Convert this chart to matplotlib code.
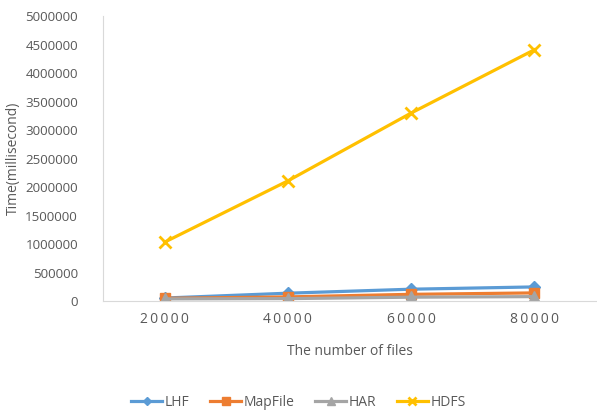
import matplotlib.pyplot as plt
import numpy as np

plt.rcParams['font.family'] = ['Open Sans', 'DejaVu Sans']

files = ["20000", "40000", "60000", "80000"]
lhf = [55000, 140000, 210000, 250000]
mapfile = [50000, 75000, 120000, 145000]
har = [40000, 45000, 70000, 80000]
hdfs = [1035000, 2110000, 3300000, 4410000]

grey = "#595959"

fig = plt.figure(figsize=(5.97, 4.12), dpi=100)
ax = fig.add_axes([0.1725, 0.269, 0.826, 0.692])

x = np.arange(len(files))
ax.plot(x, lhf, color="#5B9BD5", lw=2.3, marker="D", ms=6, label="LHF")
ax.plot(x, mapfile, color="#ED7D31", lw=2.3, marker="s", ms=7, label="MapFile")
ax.plot(x, har, color="#A5A5A5", lw=2.3, marker="^", ms=8, label="HAR")
ax.plot(x, hdfs, color="#FFC000", lw=2.3, marker="x", ms=8, mew=2, label="HDFS")

ax.set_xlim(-0.5, len(files) - 0.5)
ax.set_ylim(0, 5000000)
ax.set_yticks(np.arange(0, 5000001, 500000))
ax.set_yticklabels([str(v) for v in range(0, 5000001, 500000)])
ax.set_xticks(x)
ax.set_xticklabels([" ".join(f).replace(" ", "\u2009") for f in files])

for s in ["top", "right"]:
    ax.spines[s].set_visible(False)
for s in ["left", "bottom"]:
    ax.spines[s].set_color("#D9D9D9")
ax.tick_params(axis="both", length=0, colors=grey, labelsize=10)
ax.tick_params(axis="y", labelsize=9.6, pad=18)
ax.tick_params(axis="x", pad=8)

ax.set_ylabel("Time(millisecond)", color=grey, fontsize=10)
ax.yaxis.set_label_coords(-0.166, 0.5)
ax.set_xlabel("The number of files", color=grey, fontsize=10, labelpad=12)

leg = fig.legend(loc="lower center", bbox_to_anchor=(0.5, -0.025), ncol=4, frameon=False,
                 fontsize=10, labelcolor=grey, handlelength=2.2, handletextpad=0.2,
                 columnspacing=1.5, markerscale=0.75)

fig.savefig("out.png", dpi=100)
